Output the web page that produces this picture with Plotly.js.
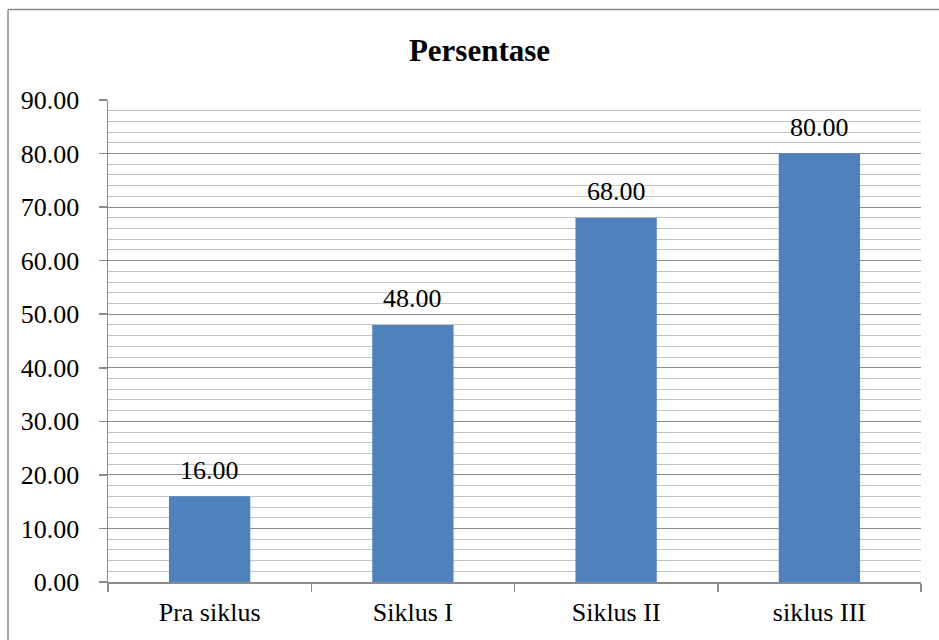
<!DOCTYPE html>
<html>
<head>
<meta charset="utf-8">
<script src="https://cdn.plot.ly/plotly-3.0.1.min.js"></script>
<style>
html,body{margin:0;padding:0;background:#fff;}
#chart{width:939px;height:640px;}
</style>
</head>
<body>
<div id="chart"></div>
<script>
const categories = ["Pra siklus", "Siklus I", "Siklus II", "siklus III"];
const values = [16.00, 48.00, 68.00, 80.00];
const chartTitle = "Persentase";

const FONT = "'Liberation Serif', 'Times New Roman', Times, serif";
const GRID = "#8c8c8c";
const MINOR = "#c4c4c4";

const trace = {
  type: "bar",
  x: categories,
  y: values,
  marker: {color: "#4F81BD", line: {width: 0}},
  hoverinfo: "x+y"
};

const labelAnnotations = categories.map((c, i) => ({
  x: c, y: values[i], xref: "x", yref: "y",
  text: values[i].toFixed(2),
  showarrow: false,
  yanchor: "middle",
  yshift: 26,
  font: {family: FONT, size: 26, color: "#000"}
}));

const layout = {
  width: 939,
  height: 640,
  margin: {l: 108, r: 18, t: 100, b: 58},
  paper_bgcolor: "#fff",
  plot_bgcolor: "#fff",
  bargap: 0.6,
  showlegend: false,
  font: {family: FONT, size: 26, color: "#000"},
  title: {
    text: "<b>" + chartTitle + "</b>",
    font: {family: FONT, size: 31, color: "#000"},
    x: 479.5 / 939,
    xref: "container",
    xanchor: "center",
    y: 1 - 50 / 640,
    yref: "container",
    yanchor: "middle"
  },
  xaxis: {
    type: "category",
    showline: true,
    linecolor: GRID,
    linewidth: 1.5,
    ticks: "outside",
    tickson: "boundaries",
    ticklen: 8,
    tickcolor: GRID,
    tickwidth: 1.5,
    ticklabelstandoff: 6,
    showgrid: false,
    tickfont: {family: FONT, size: 26, color: "#000"},
    fixedrange: true
  },
  yaxis: {
    range: [0, 90],
    dtick: 10,
    tick0: 0,
    tickformat: ".2f",
    showline: true,
    linecolor: GRID,
    linewidth: 1.5,
    ticks: "outside",
    ticklen: 8,
    tickcolor: GRID,
    tickwidth: 1.5,
    ticklabelstandoff: 14,
    showgrid: true,
    gridcolor: GRID,
    gridwidth: 1.2,
    zeroline: false,
    minor: {dtick: 2, showgrid: true, gridcolor: MINOR, gridwidth: 1, ticks: ""},
    tickfont: {family: FONT, size: 26, color: "#000"},
    fixedrange: true
  },
  annotations: labelAnnotations,
  shapes: [
    {type: "line", xref: "paper", yref: "paper",
     x0: (8 - 108) / 813, x1: (8 - 108) / 813, y0: -0.3, y1: (582 - 9.5) / 482,
     line: {color: "#8a8a8a", width: 1.5}},
    {type: "line", xref: "paper", yref: "paper",
     x0: (8 - 108) / 813, x1: 1.1, y0: (582 - 9.5) / 482, y1: (582 - 9.5) / 482,
     line: {color: "#8a8a8a", width: 1.5}}
  ]
};

Plotly.newPlot("chart", [trace], layout, {displayModeBar: false, staticPlot: true});
</script>
</body>
</html>
